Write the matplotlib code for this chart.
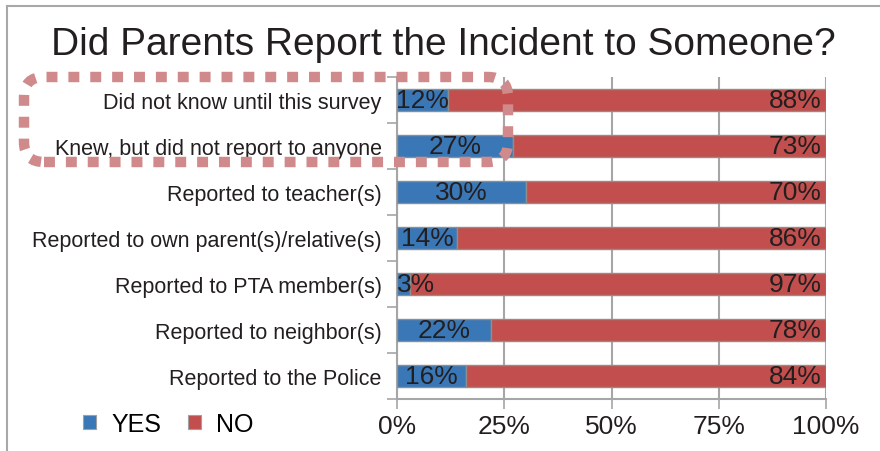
import matplotlib
matplotlib.use("Agg")
import matplotlib.pyplot as plt
from matplotlib.patches import FancyBboxPatch, Patch
from matplotlib.lines import Line2D
from matplotlib import font_manager as fm
import numpy as np

categories = [
    "Did not know until this survey",
    "Knew, but did not report to anyone",
    "Reported to teacher(s)",
    "Reported to own parent(s)/relative(s)",
    "Reported to PTA member(s)",
    "Reported to neighbor(s)",
    "Reported to the Police",
]
yes_pct = [12, 27, 30, 14, 3, 22, 16]
no_pct = [88, 73, 70, 86, 97, 78, 84]
x_ticks = [0, 25, 50, 75, 100]
x_tick_labels = ["0%", "25%", "50%", "75%", "100%"]
series_names = ["YES", "NO"]

BLUE = "#3A77B7"
RED = "#C24F4D"
GRID = "#A6A6A6"
TEXT = "#231F20"

names = {f.name for f in fm.fontManager.ttflist}
base = "Liberation Sans" if "Liberation Sans" in names else "DejaVu Sans"
plt.rcParams["font.family"] = [base, "DejaVu Sans"]

W, H, DPI = 880, 452, 100
fig = plt.figure(figsize=(W / DPI, H / DPI), dpi=DPI)
fig.patch.set_facecolor("white")

# plot area in pixel terms
L, R, T, B = 397, 826, 78, 400
ax = fig.add_axes([L / W, 1 - B / H, (R - L) / W, (B - T) / H])

y = np.arange(len(categories))
bar_h = 0.48
ax.barh(y, yes_pct, height=bar_h, color=BLUE, edgecolor="#8E8E8E", linewidth=1.0, zorder=3)
ax.barh(y, no_pct, left=yes_pct, height=bar_h, color=RED, edgecolor="#8E8E8E", linewidth=1.0, zorder=3)

for yi, yv, nv in zip(y, yes_pct, no_pct):
    if yv < 8:
        # too narrow to centre: keep the label inside the plot area
        ax.text(0, yi, f"{yv}%", ha="left", va="center", fontsize=19,
                color=TEXT, zorder=4)
    else:
        ax.text(yv / 2, yi, f"{yv}%", ha="center", va="center", fontsize=19,
                color=TEXT, zorder=4)
    ax.annotate(f"{nv}%", xy=(yv + nv, yi), xytext=(-3, 0), textcoords="offset points",
                ha="right", va="center", fontsize=19, color=TEXT, zorder=4)

ax.set_xlim(0, 100)
ax.set_ylim(len(categories) - 0.5, -0.5)
ax.set_xticks(x_ticks)
ax.set_xticklabels(x_tick_labels, fontsize=19, color=TEXT)
ax.set_yticks(y)
ax.set_yticklabels(categories, fontsize=15.5, color=TEXT)
ax.set_yticks(np.arange(len(categories) + 1) - 0.5, minor=True)
ax.tick_params(axis="y", which="major", length=0, pad=11)
ax.tick_params(axis="y", which="minor", length=7, color=GRID, width=1.2)
ax.tick_params(axis="x", length=7, color=GRID, width=1.2, pad=4)

ax.grid(axis="x", color=GRID, linewidth=1.5, zorder=0)
ax.set_axisbelow(True)
for s in ("top", "right"):
    ax.spines[s].set_visible(False)
for s in ("left", "bottom"):
    ax.spines[s].set_color(GRID)
    ax.spines[s].set_linewidth(1.5)

fig.text(443 / W, 1 - 45 / H, "Did Parents Report the Incident to Someone?",
         ha="center", va="center", fontsize=28, color=TEXT)

handles = [Patch(facecolor=BLUE, edgecolor="#A0A0A0", linewidth=0.8),
           Patch(facecolor=RED, edgecolor="#A0A0A0", linewidth=0.8)]
fig.legend(handles, series_names, loc="center left", bbox_to_anchor=(83 / W, 1 - 425 / H),
           ncol=2, frameon=False, prop={"size": 18},
           handlelength=0.52, handleheight=0.52, handletextpad=0.62, columnspacing=1.05,
           borderpad=0, borderaxespad=0)

# outer chart border (left and top edges)
fig.add_artist(Line2D([6.5 / W, 6.5 / W], [0, 1 - 7 / H], transform=fig.transFigure,
                      color="#A8A8A8", linewidth=1.5))
fig.add_artist(Line2D([6.5 / W, 1], [1 - 7 / H, 1 - 7 / H], transform=fig.transFigure,
                      color="#A8A8A8", linewidth=1.5))

# dotted rounded highlight around the first two rows
bx0, bx1, by0, by1 = 24, 508, 78, 163
hl = FancyBboxPatch((bx0 / DPI, (H - by1) / DPI), (bx1 - bx0) / DPI, (by1 - by0) / DPI,
                    boxstyle="round,pad=0,rounding_size=0.2",
                    transform=fig.dpi_scale_trans, facecolor="none",
                    edgecolor="#D08A8B", linewidth=7.5, linestyle=(0, (1.05, 1.05)),
                    capstyle="butt", zorder=10)
fig.add_artist(hl)

fig.savefig("out.png", dpi=DPI)
